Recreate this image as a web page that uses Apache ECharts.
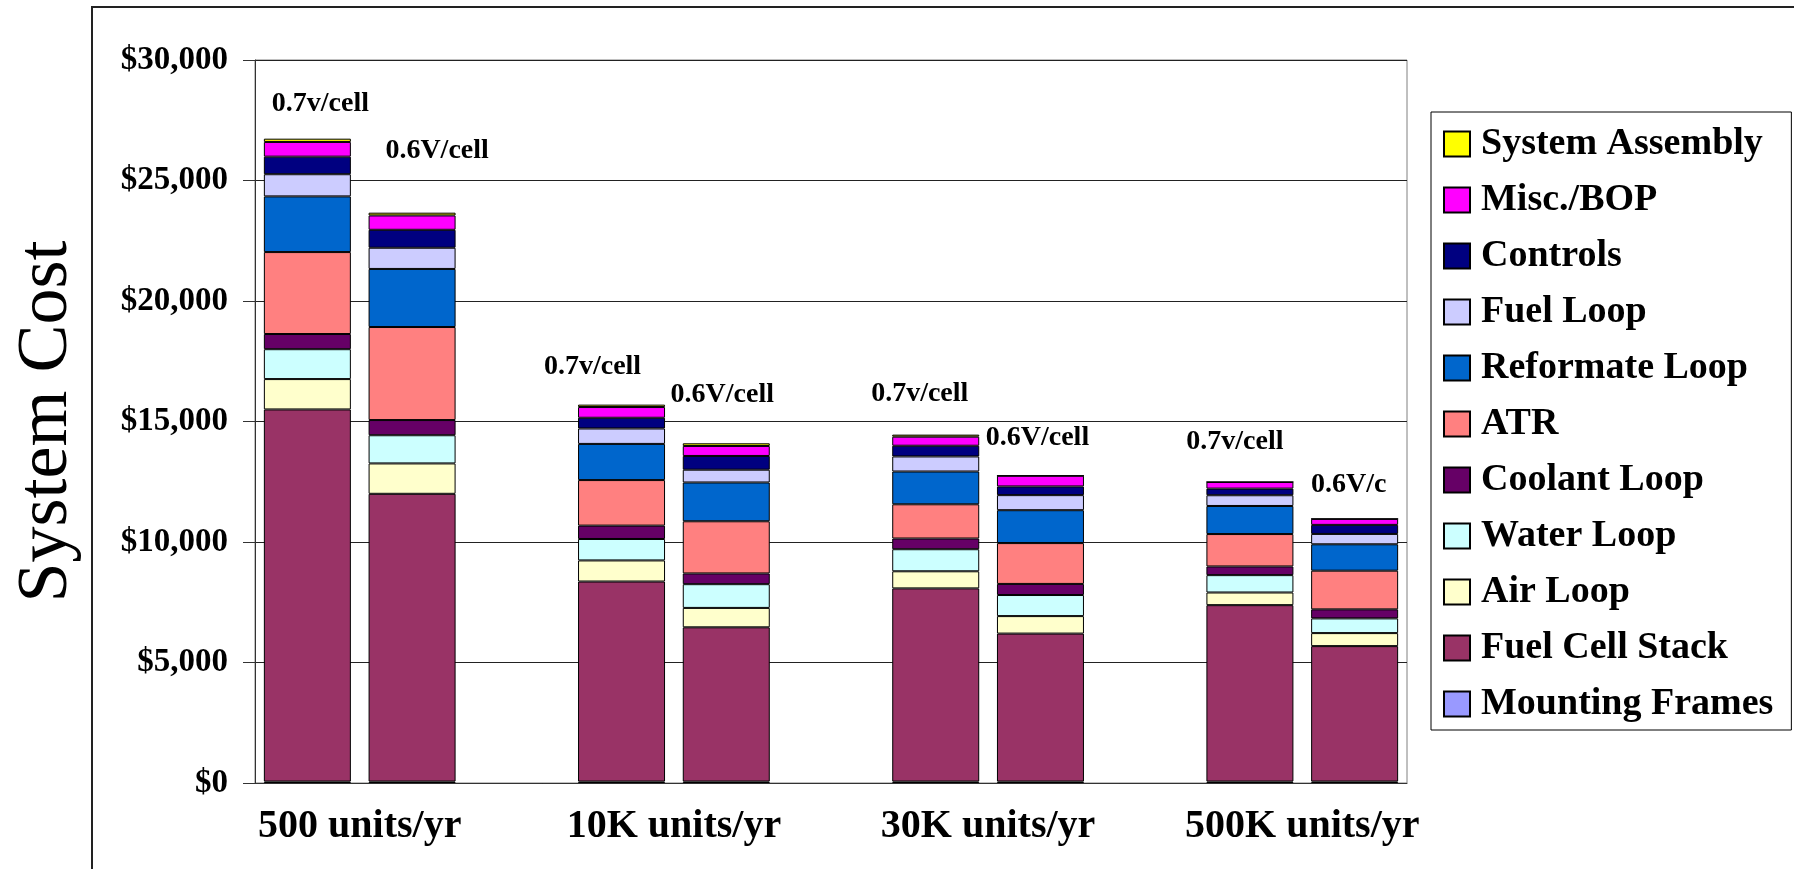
<!DOCTYPE html>
<html>
<head>
<meta charset="utf-8">
<script src="https://cdn.jsdelivr.net/npm/echarts@6/dist/echarts.min.js"></script>
<style>
  html, body { margin: 0; padding: 0; background: #ffffff; }
  #chart { width: 1794px; height: 869px; }
</style>
</head>
<body>
<div id="chart"></div>
<script>
// Production volumes; each volume has two cell-voltage design points
const volumes = ['500 units/yr', '10K units/yr', '30K units/yr', '500K units/yr'];
const cellLabels = ['0.7v/cell', '0.6V/cell', '0.7v/cell', '0.6V/cell', '0.7v/cell', '0.6V/cell', '0.7v/cell', '0.6V/c'];

// Component costs ($), bar order: 500@0.7, 500@0.6, 10K@0.7, 10K@0.6, 30K@0.7, 30K@0.6, 500K@0.7, 500K@0.6
const mountingFrames = [60, 60, 60, 60, 60, 60, 60, 60];
const fuelCellStack  = [15440, 11940, 8300, 6400, 8015, 6140, 7320, 5620];
const airLoop        = [1260, 1260, 875, 805, 710, 725, 525, 540];
const waterLoop      = [1240, 1170, 890, 985, 915, 875, 720, 610];
const coolantLoop    = [630, 630, 555, 445, 445, 460, 360, 375];
const atr            = [3400, 3860, 1890, 2165, 1420, 1695, 1345, 1605];
const reformateLoop  = [2310, 2410, 1500, 1610, 1360, 1365, 1165, 1095];
const fuelLoop       = [920, 880, 640, 530, 625, 625, 445, 430];
const controls       = [730, 745, 445, 570, 445, 360, 275, 375];
const miscBop        = [610, 595, 445, 415, 375, 445, 275, 250];
const systemAssembly = [135, 115, 100, 110, 85, 0, 0, 0];

// Value axis ticks
const costMin = 0, costMax = 30000, costStep = 5000;

// Stack order, bottom to top
const components = [
  { name: 'Mounting Frames', values: mountingFrames, color: '#9999FF' },
  { name: 'Fuel Cell Stack', values: fuelCellStack,  color: '#993366' },
  { name: 'Air Loop',        values: airLoop,        color: '#FFFFCC' },
  { name: 'Water Loop',      values: waterLoop,      color: '#CCFFFF' },
  { name: 'Coolant Loop',    values: coolantLoop,    color: '#660066' },
  { name: 'ATR',             values: atr,            color: '#FF8080' },
  { name: 'Reformate Loop',  values: reformateLoop,  color: '#0066CC' },
  { name: 'Fuel Loop',       values: fuelLoop,       color: '#CCCCFF' },
  { name: 'Controls',        values: controls,       color: '#000080' },
  { name: 'Misc./BOP',       values: miscBop,        color: '#FF00FF' },
  { name: 'System Assembly', values: systemAssembly, color: '#FFFF00' }
];

// Each volume group takes three category slots: two bars and a spacer
const slotCount = volumes.length * 3 - 1;
const slotOf = i => Math.floor(i / 2) * 3 + (i % 2);
const slotNames = [];
for (let s = 0; s < slotCount; s++) {
  const g = Math.floor(s / 3), k = s % 3;
  slotNames.push(k === 2 ? 'spacer ' + g : volumes[g] + (k === 0 ? ' 0.7V' : ' 0.6V'));
}
function toSlots(arr) {
  const out = new Array(slotCount).fill('-');
  arr.forEach((v, i) => { out[slotOf(i)] = v; });
  return out;
}

const serif = "'Liberation Serif', 'Times New Roman', serif";
const BAR_W = 87;

const series = components.map(c => ({
  name: c.name,
  type: 'bar',
  stack: 'cost',
  barWidth: BAR_W,
  data: toSlots(c.values),
  itemStyle: { color: c.color, borderColor: '#000000', borderWidth: 1 },
  emphasis: { disabled: true }
}));

// Voltage captions sit above each stacked bar
const captionOffsets = [[13, -21], [25, -48], [-29, -24], [-4, -35], [-16, -27], [-3, -24], [-15, -26], [-6, -20]];
const captionData = new Array(slotCount).fill('-');
cellLabels.forEach((txt, i) => {
  captionData[slotOf(i)] = { value: 0, label: { offset: captionOffsets[i], formatter: txt } };
});
series.push({
  name: 'cell voltage',
  type: 'bar',
  stack: 'cost',
  barWidth: BAR_W,
  data: captionData,
  itemStyle: { color: 'transparent', borderWidth: 0 },
  emphasis: { disabled: true },
  label: {
    show: true,
    position: 'top',
    distance: 0,
    fontFamily: serif,
    fontWeight: 'bold',
    fontSize: 28,
    color: '#000000'
  },
  z: 5
});

const chart = echarts.init(document.getElementById('chart'), null, { renderer: 'canvas' });
chart.setOption({
  animation: false,
  backgroundColor: '#ffffff',
  grid: {
    left: 255, right: 387, top: 60, bottom: 86,
    show: true, borderColor: '#808080', borderWidth: 1, backgroundColor: 'transparent'
  },
  legend: {
    data: components.map(c => c.name).reverse(),
    orient: 'vertical',
    left: 1431,
    top: 112,
    itemWidth: 26,
    itemHeight: 25,
    itemGap: 18,
    padding: [13, 18, 7, 12],
    borderColor: '#000000',
    borderWidth: 1,
    icon: 'rect',
    selectedMode: false,
    textStyle: {
      fontFamily: serif,
      fontWeight: 'bold',
      fontSize: 38,
      lineHeight: 38,
      color: '#000000',
      padding: [0, 0, 0, 6]
    }
  },
  xAxis: [
    {
      type: 'category',
      data: slotNames,
      axisLine: { show: true, onZero: false, lineStyle: { color: '#333333', width: 1 } },
      axisTick: { show: false },
      axisLabel: { show: false },
      splitLine: { show: false }
    },
    {
      type: 'value',
      position: 'bottom',
      min: -0.5,
      max: slotCount - 0.5,
      interval: 0.5,
      axisLine: { show: false, onZero: false },
      axisTick: { show: false },
      splitLine: { show: false },
      axisLabel: {
        margin: 24,
        fontFamily: serif,
        fontWeight: 'bold',
        fontSize: 40,
        color: '#000000',
        showMinLabel: true,
        showMaxLabel: true,
        formatter: v => {
          const g = (v - 0.5) / 3;
          return Number.isInteger(g) && g >= 0 && g < volumes.length ? volumes[g] : '';
        }
      }
    }
  ],
  yAxis: {
    type: 'value',
    min: costMin,
    max: costMax,
    interval: costStep,
    name: 'System Cost',
    nameLocation: 'middle',
    nameGap: 172,
    nameRotate: 90,
    nameTextStyle: { fontFamily: serif, fontSize: 72, color: '#000000' },
    axisLine: { show: true, onZero: false, lineStyle: { color: '#333333', width: 1 } },
    axisTick: { show: true, inside: false, length: 12, lineStyle: { color: '#333333' } },
    axisLabel: {
      margin: 27,
      fontFamily: serif,
      fontWeight: 'bold',
      fontSize: 33,
      color: '#000000',
      formatter: v => '$' + v.toLocaleString('en-US')
    },
    splitLine: { show: true, lineStyle: { color: '#222222', width: 1 } }
  },
  graphic: [
    {
      type: 'rect',
      silent: true,
      z: -10,
      shape: { x: 92, y: 7, width: 1800, height: 900 },
      style: { fill: 'none', stroke: '#222222', lineWidth: 2 }
    }
  ],
  series: series
});
</script>
</body>
</html>
